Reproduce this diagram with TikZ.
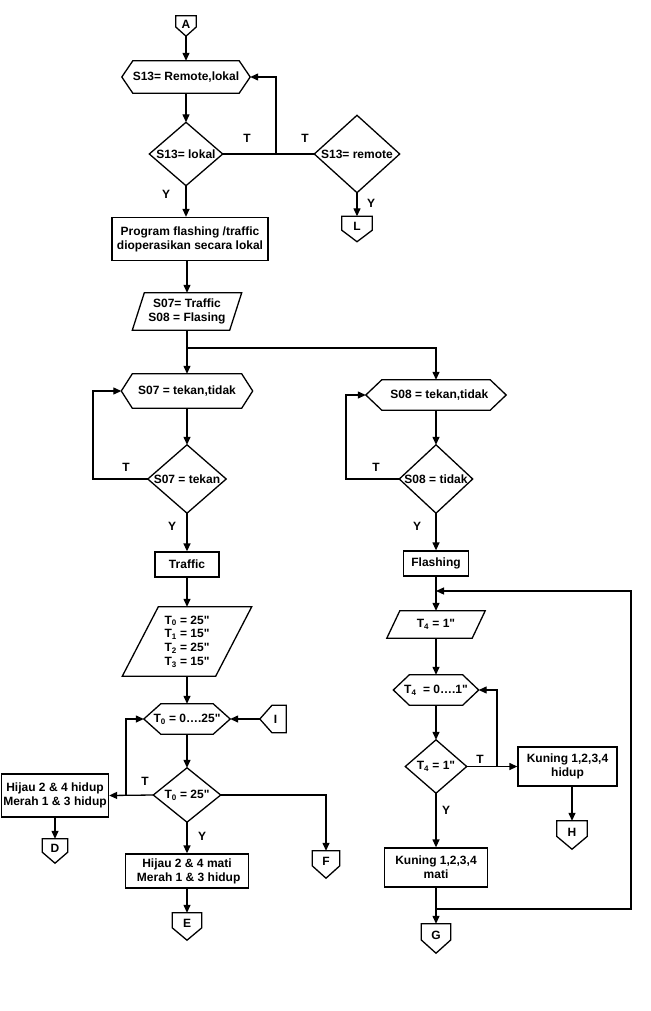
\documentclass[tikz,border=0pt]{standalone}
\usepackage{fontspec}
\setmainfont{Liberation Sans}[Ligatures=TeXOff]
\usetikzlibrary{arrows.meta,calc}
\tikzset{
  base/.style={inner sep=0pt, align=center, font=\fontsize{12}{13.8}\selectfont\bfseries},
  outline/.style={draw=black, line width=1.3pt, line join=miter},
  flow/.style={draw=black, line width=1.3pt},
  arr/.style={flow, -{Triangle[length=8pt,width=7pt]}},
}
\newcommand{\boxn}[6]{\node[base, outline, minimum width=#4pt, minimum height=#5pt] (#1) at (#2,#3) {#6};}
\newcommand{\hexn}[7]{\node[base, minimum width=#4pt, minimum height=#5pt] (#1) at (#2,#3) {#7};
  \draw[outline] (#1.west) -- ([xshift=#6pt]#1.north west) -- ([xshift=-#6pt]#1.north east) -- (#1.east) -- ([xshift=-#6pt]#1.south east) -- ([xshift=#6pt]#1.south west) -- cycle;}
\newcommand{\diamn}[6]{\node[base, minimum width=#4pt, minimum height=#5pt] (#1) at (#2,#3) {#6};
  \draw[outline] (#1.west) -- (#1.north) -- (#1.east) -- (#1.south) -- cycle;}
\newcommand{\parn}[7]{\node[base, minimum width=#4pt, minimum height=#5pt] (#1) at (#2,#3) {#7};
  \draw[outline] (#1.south west) -- ([xshift=-#6pt]#1.south east) -- (#1.north east) -- ([xshift=#6pt]#1.north west) -- cycle;}
\newcommand{\offd}[6]{\node[base, minimum width=#4pt, minimum height=#5pt] (#1) at (#2,#3) {};
  \draw[outline] (#1.north west) -- (#1.north east) -- ($(#1.north east)!0.55!(#1.south east)$) -- (#1.south) -- ($(#1.north west)!0.55!(#1.south west)$) -- cycle;
  \node[base] (#1t) at ($(#1.north)!0.4!(#1.south)$) {#6};}
\newcommand{\offl}[6]{\node[base, minimum width=#4pt, minimum height=#5pt] (#1) at (#2,#3) {};
  \draw[outline] (#1.north east) -- (#1.south east) -- ($(#1.south east)!0.54!(#1.south west)$) -- (#1.west) -- ($(#1.north east)!0.54!(#1.north west)$) -- cycle;
  \node[base] (#1t) at ($(#1.east)!0.4!(#1.west)$) {#6};}
\begin{document}
\begin{tikzpicture}[x=1pt,y=-1pt]
\fill[white] (0,0) rectangle (650,1011);
\useasboundingbox (0,0) rectangle (650,1011);

% ---------- top part
\offd{A}{186}{26}{20}{20}{A}
\hexn{h13}{186}{77}{128}{32}{11}{S13= Remote,lokal}
\diamn{d13l}{186}{154}{73}{63}{S13= lokal}
\diamn{d13r}{357}{154}{85}{77}{S13= remote}
\offd{L}{357}{229}{30}{25}{L}
\boxn{prog}{190}{239}{156}{43}{Program flashing /traffic\\dioperasikan secara lokal}
\parn{par1}{187}{311.5}{109}{37}{12}{S07= Traffic\\S08 = Flasing}

% ---------- left branch
\hexn{h07}{187}{391}{131}{34}{11}{S07 = tekan,tidak}
\diamn{d07}{187}{479}{78}{68}{S07 = tekan}
\boxn{traffic}{187}{564.5}{64}{25}{Traffic}
\parn{par2}{187}{641.5}{129}{69}{36}{T\textsubscript{0} = 25"\\T\textsubscript{1} = 15"\\T\textsubscript{2} = 25"\\T\textsubscript{3} = 15"}
\hexn{hT0}{187}{719}{86}{30}{17}{T\textsubscript{0} = 0….25"}
\offl{I}{273}{719}{26}{27}{I}
\diamn{dT0}{187}{795}{67}{54}{T\textsubscript{0} = 25"}
\boxn{hh}{55}{795.5}{107}{43}{Hijau 2 \& 4 hidup\\Merah 1 \& 3 hidup}
\offd{D}{55}{851}{25}{24}{D}
\offd{F}{326}{864.5}{27}{27}{F}
\boxn{hm}{187}{871}{123}{34}{Hijau 2 \& 4 mati\\\ Merah 1 \& 3 hidup}
\offd{E}{187}{926.5}{29}{27}{E}

% ---------- right branch
\hexn{h08}{436}{395}{140}{30}{16}{\ \ S08 = tekan,tidak}
\diamn{d08}{436}{479}{73}{68}{S08 = tidak}
\boxn{flash}{436}{563.5}{65}{25}{Flashing}
\parn{par3}{436}{624.5}{98}{27}{13}{T\textsubscript{4} = 1"}
\hexn{hT4}{436}{690}{85}{30}{16}{T\textsubscript{4}\ \ = 0….1"}
\diamn{dT4}{436}{766.5}{61}{53}{T\textsubscript{4} = 1"}
\boxn{kh}{567.5}{766.5}{99}{39}{Kuning 1,2,3,4\\hidup}
\offd{H}{572}{835}{30}{28}{H}
\boxn{km}{436}{867.5}{103}{39}{Kuning 1,2,3,4\\mati}
\offd{G}{436}{938.5}{29}{29}{G}

% ---------- junction coordinates
\coordinate (j1) at (276,154);
\coordinate (j2) at (187,348);
\coordinate (l07) at (93,479);
\coordinate (l08) at (346,479);
\coordinate (j3) at (126,795);
\coordinate (j4) at (497,766.5);
\coordinate (j5) at (436,909);
\coordinate (j6) at (436,591);
\coordinate (rb) at (631,909);
\coordinate (rt) at (631,591);

% ---------- connectors
\draw[arr] (A.south) -- (h13.north);
\draw[arr] (h13.south) -- (d13l.north);
\draw[flow] (d13l.east) -- (d13r.west);
\draw[arr] (j1) |- (h13.east);
\draw[arr] (d13l.south) -- (d13l.south |- prog.north);
\draw[arr] (d13r.south) -- (L.north);
\draw[arr] (prog.south -| par1.north) -- (par1.north);
\draw[arr] (par1.south) -- (h07.north);
\draw[arr] (j2) -| (h08.north);

\draw[arr] (h07.south) -- (d07.north);
\draw[arr] (d07.west) -- (l07) |- (h07.west);
\draw[arr] (d07.south) -- (traffic.north);
\draw[arr] (traffic.south) -- (par2.north);
\draw[arr] (par2.south) -- (hT0.north);
\draw[arr] (I.west) -- (hT0.east);
\draw[arr] (hT0.south) -- (dT0.north);
\draw[arr] (dT0.west) -- (hh.east);
\draw[arr] (j3) |- (hT0.west);
\draw[arr] (dT0.east) -| (F.north);
\draw[arr] (dT0.south) -- (hm.north);
\draw[arr] (hh.south) -- (D.north);
\draw[arr] (hm.south) -- (E.north);

\draw[arr] (h08.south) -- (d08.north);
\draw[arr] (d08.west) -- (l08) |- (h08.west);
\draw[arr] (d08.south) -- (flash.north);
\draw[arr] (flash.south) -- (par3.north);
\draw[arr] (par3.south) -- (hT4.north);
\draw[arr] (hT4.south) -- (dT4.north);
\draw[arr] (dT4.east) -- (kh.west);
\draw[arr] (j4) |- (hT4.east);
\draw[arr] (H.north |- kh.south) -- (H.north);
\draw[arr] (dT4.south) -- (km.north);
\draw[arr] (km.south) -- (G.north);
\draw[arr] (j5) -- (rb) -- (rt) -- (j6);

% ---------- labels
\node[base] (t1) at (247,138) {T};
\node[base] (t2) at (305,138) {T};
\node[base] (y1) at (166,194) {Y};
\node[base] (y2) at (371,203) {Y};
\node[base] (t3) at (126,467) {T};
\node[base] (y3) at (172,526) {Y};
\node[base] (t4) at (376,467) {T};
\node[base] (y4) at (417,526) {Y};
\node[base] (t5) at (145,781) {T};
\node[base] (y5) at (202,836) {Y};
\node[base] (t6) at (480,759) {T};
\node[base] (y6) at (446,810) {Y};
\end{tikzpicture}
\end{document}
